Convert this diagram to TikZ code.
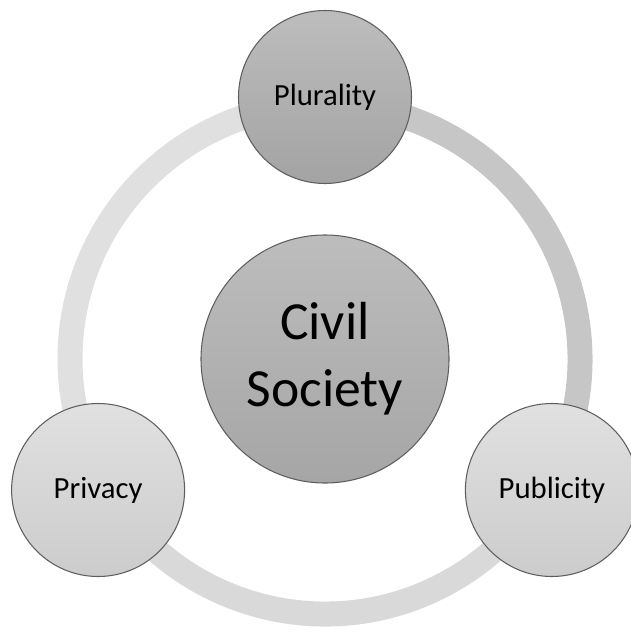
\documentclass[tikz,border=0pt]{standalone}
\usepackage{fontspec}
\setmainfont{Carlito}
\usepackage{tikz}

\definecolor{ringlight}{HTML}{E0E0E0}
\definecolor{ringmid}{HTML}{D9D9D9}
\definecolor{ringdark}{HTML}{C6C6C6}
\definecolor{edgegray}{HTML}{5E5E5E}

\begin{document}
\begin{tikzpicture}[
    hub/.style={circle, draw=edgegray, line width=0.6pt, top color=black!26, bottom color=black!35, minimum size=4.96cm, inner sep=0pt, align=center, font=\fontsize{30.5}{38}\selectfont},
    spoke/.style={circle, draw=edgegray, line width=0.6pt, minimum size=3.46cm, inner sep=0pt, font=\fontsize{17.5}{21}\selectfont},
    darkfill/.style={top color=black!26, bottom color=black!36},
    lightfill/.style={top color=black!12, bottom color=black!20},
    ring/.style={line width=0.5cm}
]

% Frame
\path[use as bounding box, clip] (-6.5,-5.4) rectangle (6.12,7.18);

% Hub
\node[hub] (cs) at (0,0) {Civil\\Society};

% Ring
\draw[ring, draw=ringlight] (cs.center) ++(90:5.1) arc[start angle=90, end angle=210, radius=5.1];
\draw[ring, draw=ringmid] (cs.center) ++(210:5.1) arc[start angle=210, end angle=330, radius=5.1];
\draw[ring, draw=ringdark] (cs.center) ++(330:5.1) arc[start angle=330, end angle=450, radius=5.1];

% Spokes
\node[spoke, darkfill] (plur) at (90:5.24) {Plurality};
\node[spoke, lightfill] (priv) at (210:5.24) {Privacy};
\node[spoke, lightfill] (pub) at (330:5.24) {Publicity};

\end{tikzpicture}
\end{document}
